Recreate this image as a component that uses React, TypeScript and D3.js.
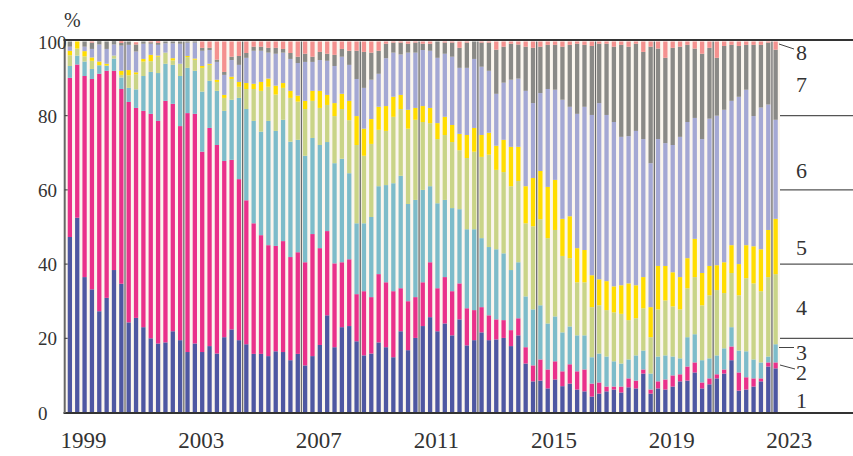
import React from "react";
import * as d3 from "d3";

// Quarterly shares (%) 1999Q1 – 2023Q1, eight categories
const startYear = 1999;
const nQuarters = 97;
const tickYears = [1999, 2003, 2007, 2011, 2015, 2019, 2023];
const yTicks = [0, 20, 40, 60, 80, 100];
const seriesNames = ["1", "2", "3", "4", "5", "6", "7", "8"];
const colors = ["#4e57a2", "#e9318b", "#7dbcca", "#c9d487", "#ffdd00", "#a4a8d4", "#8a8a87", "#f4918f"];

const s1 = [
  47.3, 52.5, 36.5, 33.2, 27.3, 30.9, 38.4, 34.7,
  24.3, 25.5, 23.0, 20.0, 18.6, 18.9, 21.9, 19.5,
  16.3, 18.6, 16.3, 17.9, 15.9, 20.3, 22.4, 19.5,
  18.4, 15.8, 15.8, 15.2, 16.5, 16.3, 14.1, 15.8,
  12.7, 15.2, 18.2, 26.2, 17.6, 23.0, 23.3, 19.2,
  15.4, 15.9, 18.9, 17.6, 14.9, 21.9, 16.8, 20.1,
  23.3, 25.7, 21.9, 24.0, 20.8, 25.1, 18.1, 19.5,
  21.6, 19.5, 19.7, 20.1, 17.9, 20.8, 13.2, 8.4,
  8.6, 6.5, 8.9, 7.1, 7.8, 6.2, 5.7, 4.3,
  5.1, 5.7, 6.2, 5.4, 6.8, 6.5, 10.5, 5.1,
  6.5, 6.2, 7.0, 8.4, 8.6, 10.8, 6.5, 7.6,
  9.2, 10.5, 14.1, 5.9, 6.2, 7.0, 8.4, 12.4,
  11.9,
];
const s2 = [
  42.9, 41.3, 54.2, 56.7, 64.0, 61.2, 53.7, 52.5,
  59.4, 56.6, 58.3, 60.5, 60.0, 65.1, 61.3, 57.7,
  64.4, 61.9, 54.0, 58.8, 56.2, 47.5, 45.7, 43.4,
  38.8, 35.2, 32.0, 29.9, 28.4, 29.9, 27.8, 27.4,
  27.8, 32.9, 26.1, 22.7, 22.6, 17.5, 18.0, 12.7,
  17.3, 15.2, 18.4, 17.5, 17.8, 11.6, 13.2, 11.0,
  11.8, 14.8, 11.6, 12.5, 11.9, 9.7, 10.0, 8.1,
  6.8, 6.7, 5.4, 4.8, 4.3, 4.6, 4.4, 4.3,
  5.7, 5.1, 4.9, 4.0, 5.2, 4.9, 5.9, 3.5,
  3.0, 1.3, 0.8, 1.6, 2.4, 2.1, 1.1, 1.1,
  1.9, 2.7, 3.0, 1.9, 3.8, 2.7, 1.6, 1.6,
  1.1, 1.1, 3.7, 4.9, 3.3, 2.2, 0.8, 1.1,
  1.6,
];
const s3 = [
  3.2, 2.4, 3.9, 2.7, 2.3, 1.4, 3.3, 3.1,
  3.8, 5.0, 9.4, 11.3, 12.9, 10.0, 10.5, 13.5,
  12.2, 11.6, 16.2, 12.7, 14.6, 13.5, 16.2, 21.9,
  24.6, 27.6, 27.9, 33.5, 31.0, 32.7, 31.1, 30.3,
  28.7, 25.9, 27.8, 24.0, 27.0, 27.9, 23.2, 19.1,
  18.3, 21.6, 23.7, 26.2, 29.1, 30.3, 26.2, 26.2,
  24.9, 20.5, 22.9, 20.8, 22.4, 20.0, 21.3, 21.8,
  18.6, 18.4, 18.9, 18.0, 16.2, 15.1, 13.7, 15.1,
  14.6, 12.4, 12.1, 10.5, 10.2, 9.7, 9.2, 7.1,
  7.8, 8.1, 6.8, 6.2, 5.1, 6.8, 5.1, 4.3,
  6.7, 6.5, 5.1, 4.3, 7.9, 7.6, 6.0, 5.4,
  5.1, 5.7, 5.2, 5.9, 7.0, 5.1, 4.3, 1.6,
  4.9,
];
const s4 = [
  2.9, 1.9, 1.4, 2.2, 0, 0, 0.8, 0.7,
  3.4, 4.1, 3.9, 2.9, 4.4, 3.0, 1.2, 3.3,
  2.9, 3.0, 6.4, 4.3, 2.4, 3.5, 5.6, 3.0,
  5.4, 8.6, 11.0, 9.2, 9.8, 8.6, 11.8, 10.3,
  12.6, 10.0, 10.0, 10.0, 12.7, 13.4, 14.3, 21.1,
  18.2, 19.7, 15.2, 14.6, 17.9, 18.0, 20.3, 21.6,
  18.3, 17.0, 17.3, 17.5, 17.8, 15.9, 19.2, 20.9,
  21.9, 24.9, 21.4, 21.9, 22.6, 21.9, 19.7, 22.4,
  23.2, 23.0, 23.3, 20.6, 18.4, 14.3, 14.3, 13.5,
  13.0, 12.5, 13.2, 13.4, 10.6, 10.0, 11.4, 9.8,
  12.7, 14.8, 13.5, 13.2, 13.2, 15.4, 14.8, 17.0,
  17.6, 14.9, 14.6, 14.9, 19.7, 20.5, 19.2, 21.4,
  18.9,
];
const s5 = [
  1.2, 1.9, 1.4, 0.9, 1.0, 0.5, 0, 1.1,
  1.4, 0.5, 0.7, 1.7, 0.3, 0, 0.6, 0,
  0.3, 0.3, 0.5, 0.3, 0.6, 0.8, 0.6, 1.3,
  1.6, 1.4, 2.4, 2.2, 2.4, 1.3, 1.9, 1.6,
  2.2, 2.7, 4.6, 2.7, 3.5, 4.1, 5.2, 7.8,
  7.3, 6.7, 6.2, 6.7, 5.4, 3.8, 5.1, 3.2,
  4.3, 4.1, 4.3, 4.9, 4.6, 4.4, 6.2, 6.4,
  5.9, 5.9, 6.5, 8.7, 10.6, 9.2, 10.0, 13.0,
  13.0, 13.8, 13.5, 10.0, 11.3, 9.2, 8.7, 8.6,
  7.0, 7.8, 7.0, 7.7, 9.9, 8.9, 8.4, 8.1,
  11.7, 9.3, 9.2, 8.7, 8.1, 10.3, 8.7, 7.9,
  6.7, 8.3, 7.5, 8.4, 8.9, 10.0, 11.3, 12.7,
  14.9,
];
const s6 = [
  1.1, 0, 1.2, 2.3, 4.6, 4.0, 3.0, 6.8,
  6.8, 5.6, 4.1, 3.0, 2.9, 2.5, 4.0, 5.4,
  3.6, 4.3, 4.1, 3.7, 4.8, 5.4, 4.5, 4.6,
  6.8, 8.9, 8.4, 7.0, 8.6, 8.2, 8.6, 8.8,
  10.5, 7.8, 8.3, 9.2, 10.0, 10.0, 9.7, 10.0,
  11.0, 10.6, 8.9, 12.9, 11.9, 10.9, 15.4, 14.9,
  15.1, 15.4, 17.6, 17.0, 18.4, 17.8, 18.1, 18.6,
  18.4, 16.7, 14.0, 15.4, 18.1, 18.4, 25.7, 20.2,
  21.0, 26.4, 24.3, 32.1, 29.5, 36.2, 38.6, 43.2,
  47.5, 44.8, 44.3, 40.0, 39.7, 41.6, 37.2, 38.8,
  34.2, 33.1, 34.3, 37.8, 36.7, 32.6, 36.1, 39.7,
  40.3, 41.1, 38.9, 45.1, 41.9, 35.1, 38.2, 33.8,
  26.7,
];
const s7 = [
  1.4, 0, 1.4, 1.7, 0.9, 2.0, 0.9, 0.7,
  0.9, 1.9, 0.6, 0.4, 0.5, 0.5, 0.5, 0.6,
  0.3, 0.3, 0.8, 0.6, 0.6, 0.8, 0.9, 2.4,
  1.3, 1.1, 1.1, 1.3, 1.6, 1.0, 1.6, 1.7,
  2.2, 1.4, 2.2, 1.9, 3.0, 2.1, 3.8, 7.6,
  9.7, 7.3, 6.2, 3.9, 2.7, 3.2, 2.4, 2.7,
  1.7, 1.9, 4.4, 3.0, 3.8, 5.4, 6.8, 4.7,
  6.5, 7.6, 11.9, 9.7, 9.7, 9.2, 11.9, 14.9,
  12.5, 11.9, 12.1, 14.3, 16.7, 18.9, 16.7, 18.6,
  16.0, 19.2, 20.3, 24.8, 24.1, 23.5, 23.5, 31.4,
  24.4, 23.0, 26.2, 24.3, 20.8, 18.7, 23.0, 19.1,
  15.6, 17.2, 15.1, 13.7, 12.1, 19.2, 16.9, 16.7,
  18.9,
];
const s8 = [
  0, 0, 0, 0.3, 0, 0, 0, 0.5,
  0, 0.6, 0, 0.2, 0.5, 0, 0, 0,
  0, 0, 1.7, 1.7, 4.9, 8.2, 4.1, 3.9,
  3.1, 1.4, 1.4, 1.7, 1.7, 2.0, 3.1, 4.1,
  3.3, 4.1, 2.8, 3.3, 3.6, 2.0, 2.5, 2.5,
  2.8, 3.0, 2.5, 0.6, 0.3, 0.3, 0.6, 0.3,
  0.6, 0.6, 0, 0.3, 0.3, 1.7, 0.3, 0,
  0.3, 0.3, 2.2, 1.4, 0.6, 0.8, 1.4, 1.7,
  1.4, 0.9, 0.9, 1.4, 0.9, 0.6, 0.9, 1.2,
  0.6, 0.6, 1.4, 0.9, 1.4, 0.6, 2.8, 1.4,
  1.9, 4.4, 1.7, 1.4, 0.9, 1.9, 3.3, 1.7,
  4.4, 1.2, 0.9, 1.2, 0.9, 0.9, 0.9, 0.3,
  2.2,
];

const W = 853;
const H = 456;
const FONT = "'Liberation Serif', 'DejaVu Serif', serif";
const TXT = "#333";

export default function App() {
  const seriesData = [s1, s2, s3, s4, s5, s6, s7, s8];
  const rows = d3.range(nQuarters).map((i) => {
    const r: any = { i };
    seriesNames.forEach((k, j) => (r[k] = seriesData[j][i]));
    return r;
  });
  const stacked = d3.stack().keys(seriesNames)(rows);

  const x = d3
    .scaleBand<number>()
    .domain(d3.range(nQuarters))
    .range([66.2, 779.3])
    .paddingInner(0.415)
    .paddingOuter(0.2075);
  const step = x.step();
  const bw = x.bandwidth();
  const xCenter = (i: number) => (x(0) as number) + bw / 2 + i * step;
  const y = d3.scaleLinear().domain([0, 100]).range([412.5, 41.5]);

  const plotL = 64.7;
  const plotR = 780;
  const yearLines = d3.range(startYear + 2, startYear + 25, 2).map((yr) => xCenter((yr - startYear) * 4) - step / 2);

  const legendY: Record<string, number> = { "8": 52.5, "7": 84, "6": 170, "5": 247, "4": 307, "3": 352, "2": 372, "1": 400 };

  return (
    <svg width={W} height={H} style={{ position: "absolute", left: 0, top: 0, background: "#fff" }}>
      <rect x={plotL} y={y(100)} width={plotR - plotL} height={y(0) - y(100)} fill="#fbf6ee" />
      {stacked.map((layer, j) => (
        <g key={layer.key} fill={colors[j]}>
          {layer.map((d, i) =>
            d[1] - d[0] > 0 ? (
              <rect key={i} x={x(i)} y={y(d[1])} width={bw} height={y(d[0]) - y(d[1])} />
            ) : null
          )}
        </g>
      ))}
      {yearLines.map((lx, i) => (
        <line key={i} x1={lx} x2={lx} y1={y(100)} y2={y(0)} stroke="#6a6a6a" strokeWidth={1.3} />
      ))}
      {/* legend area separators */}
      {[20, 40, 60, 80].map((v) => (
        <line key={v} x1={plotR} x2={W} y1={y(v)} y2={y(v)} stroke="#555" strokeWidth={1.2} />
      ))}
      {/* frame */}
      <line x1={63.5} x2={W} y1={40} y2={40} stroke="#333" strokeWidth={2} />
      <line x1={63.5} x2={W} y1={413} y2={413} stroke="#333" strokeWidth={2} />
      <line x1={plotL} x2={plotL} y1={40} y2={413} stroke="#666" strokeWidth={2} />
      {[20, 40, 60, 80].map((v) => (
        <line key={v} x1={plotL} x2={plotL + 3} y1={y(v)} y2={y(v)} stroke="#333" strokeWidth={1} />
      ))}
      {/* y labels */}
      {yTicks.map((v) => (
        <text key={v} x={38} y={y(v) + 7} fontFamily={FONT} fontSize={19} fill={TXT}>
          {v}
        </text>
      ))}
      <text x={64} y={27} fontFamily={FONT} fontSize={20} fill={TXT}>
        %
      </text>
      {/* x labels */}
      {tickYears.map((yr) => (
        <text key={yr} x={xCenter((yr - startYear) * 4 + 2) - 1} y={448} textAnchor="middle" fontFamily={FONT} fontSize={23} fill={TXT}>
          {yr}
        </text>
      ))}
      {/* legend */}
      {seriesNames.map((k) => (
        <text key={k} x={796} y={legendY[k] + 7.5} fontFamily={FONT} fontSize={22} fill={TXT}>
          {k}
        </text>
      ))}
      <line x1={779} y1={44} x2={794} y2={49} stroke="#444" strokeWidth={1} />
      <line x1={779} y1={347.5} x2={794} y2={347.5} stroke="#444" strokeWidth={1} />
      <line x1={780} y1={365} x2={795} y2={369} stroke="#444" strokeWidth={1} />
    </svg>
  );
}
